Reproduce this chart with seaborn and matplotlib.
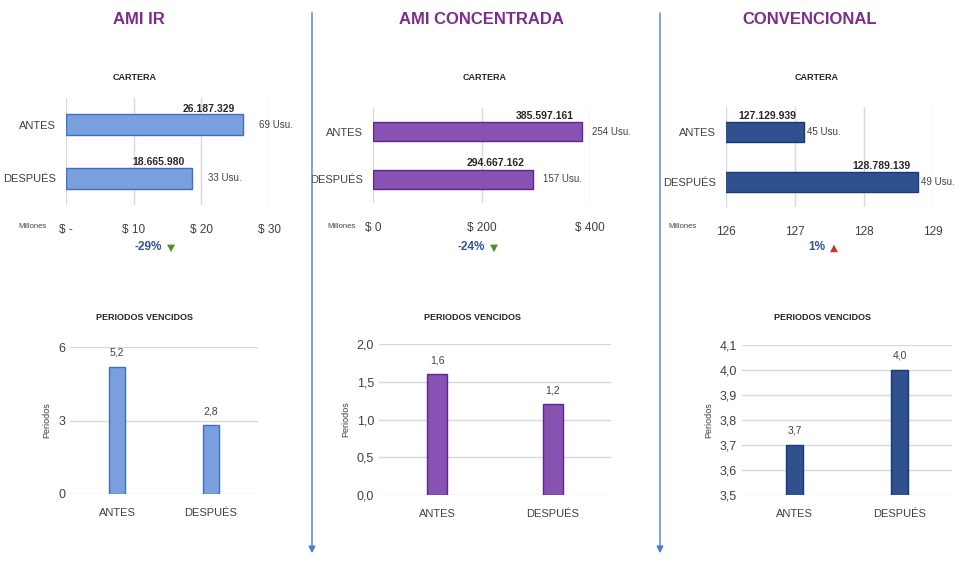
import matplotlib
matplotlib.use('Agg')
import matplotlib.pyplot as plt
from matplotlib.patches import FancyArrowPatch
import seaborn as sns

# datos
grupos = ['AMI IR', 'AMI CONCENTRADA', 'CONVENCIONAL']
categorias = ['ANTES', 'DESPUÉS']
cartera_ami_ir = [26187329, 18665980]
cartera_ami_conc = [385597161, 294667162]
cartera_conv = [127129939, 128789139]
usuarios_ami_ir = [69, 33]
usuarios_ami_conc = [254, 157]
usuarios_conv = [45, 49]
periodos_ami_ir = [5.2, 2.8]
periodos_ami_conc = [1.6, 1.2]
periodos_conv = [3.7, 4.0]
ticks_cartera = [[0, 10, 20, 30], [0, 200, 400], [126, 127, 128, 129]]
etiquetas_cartera = [['$ -', '$ 10', '$ 20', '$ 30'], ['$ 0', '$ 200', '$ 400'],
                     ['126', '127', '128', '129']]
ticks_periodos = [[0, 3, 6], [0, 0.5, 1.0, 1.5, 2.0], [3.5, 3.6, 3.7, 3.8, 3.9, 4.0, 4.1]]

colores = ['#6A9BEE', '#8A42C2', '#1F4E9E']
bordes = ['#3E6FC8', '#5E2590', '#163A78']

sns.set_style('white')
plt.rcParams['font.family'] = ['Liberation Sans', 'DejaVu Sans']
GRIS = '#404040'
W, H = 955, 561

fig = plt.figure(figsize=(9.55, 5.61), dpi=100)


def px(x, y):
    return x / W, 1 - y / H


def caja(x0, x1, y0, y1):
    return [x0 / W, 1 - y1 / H, (x1 - x0) / W, (y1 - y0) / H]


def fmt_num(v):
    return f'{v:,}'.replace(',', '.')


def fmt_dec(v):
    return f'{v:.1f}'.replace('.', ',')


carteras = [cartera_ami_ir, cartera_ami_conc, cartera_conv]
usuarios = [usuarios_ami_ir, usuarios_ami_conc, usuarios_conv]
periodos = [periodos_ami_ir, periodos_ami_conc, periodos_conv]

cajas_top = [(66, 269, 98, 205), (373, 590, 108, 203), (726, 933, 107, 207)]
cajas_bot = [(70, 258, 347, 494), (379, 611, 344, 495), (742, 952, 345, 495)]
centros = [139, 481, 810]
centros_cartera = [135, 485, 817]
centros_periodos = [145, 472, 822]
millones_x = [32, 342, 682]
pct_x = [162, 485, 825]
usu_offset = [16, 10, 3]
ylims_bot = [(0, 6), (0, 2), (3.5, 4.1)]

for i in range(3):
    fig.text(*px(centros[i], 19), grupos[i], ha='center', va='center',
             fontsize=12, fontweight='bold', color='#7B2C8C')

    # cartera (barras horizontales)
    ax = fig.add_axes(caja(*cajas_top[i]))
    valores = [v / 1e6 for v in carteras[i]]
    sns.barplot(x=valores, y=categorias, orient='h', color=colores[i],
                edgecolor=bordes[i], linewidth=1, width=0.4, ax=ax, zorder=3)
    ax.set_xlim(ticks_cartera[i][0], ticks_cartera[i][-1])
    ax.set_xticks(ticks_cartera[i])
    ax.set_xticklabels([t.replace('$', r'\$') for t in etiquetas_cartera[i]])
    ax.grid(axis='x', color='#D9D9D9', lw=1, zorder=0)
    ax.set_axisbelow(True)
    sns.despine(ax=ax, left=True, bottom=True)
    ax.tick_params(axis='both', length=0, labelsize=8.5, colors=GRIS)
    ax.tick_params(axis='y', pad=7, labelsize=8)
    ax.tick_params(axis='x', pad=14)
    ax.set_xlabel('')
    ax.set_ylabel('')
    for j, v in enumerate(valores):
        ax.annotate(fmt_num(carteras[i][j]), (v, j), xytext=(-8, 11),
                    textcoords='offset pixels', ha='right', va='bottom',
                    fontsize=7.5, fontweight='bold', color='#262626')
        ax.annotate(f'{usuarios[i][j]} Usu.', (v, j), xytext=(usu_offset[i], 0),
                    textcoords='offset pixels', ha='left', va='center',
                    fontsize=7, color=GRIS, annotation_clip=False)
    fig.text(*px(centros_cartera[i], 78), 'CARTERA', ha='center', va='center',
             fontsize=6.5, fontweight='bold', color='#262626')
    fig.text(*px(millones_x[i], 226), 'Millones', ha='center', va='center',
             fontsize=5.5, color=GRIS)

    var = carteras[i][1] / carteras[i][0] - 1
    fig.text(*px(pct_x[i], 247), f'{var:.0%}', ha='right', va='center',
             fontsize=8.5, fontweight='bold', color='#2F5597')
    simbolo, col = ('▼', '#4E8F2E') if var < 0 else ('▲', '#C0392B')
    fig.text(*px(pct_x[i] + 5, 248), simbolo, ha='left', va='center',
             fontsize=7.5, color=col, family='DejaVu Sans')

    # periodos vencidos (columnas)
    ax2 = fig.add_axes(caja(*cajas_bot[i]))
    sns.barplot(x=categorias, y=periodos[i], color=colores[i],
                edgecolor=bordes[i], linewidth=1, width=0.17, ax=ax2, zorder=3)
    ax2.set_ylim(*ylims_bot[i])
    ax2.set_yticks(ticks_periodos[i])
    if i == 0:
        ax2.set_yticklabels([str(int(t)) for t in ticks_periodos[i]])
    else:
        ax2.set_yticklabels([fmt_dec(t) for t in ticks_periodos[i]])
    ax2.grid(axis='y', color='#D9D9D9', lw=1, zorder=0)
    ax2.set_axisbelow(True)
    sns.despine(ax=ax2, left=True, bottom=True)
    ax2.tick_params(axis='both', length=0, labelsize=9, colors=GRIS)
    ax2.tick_params(axis='x', pad=10, labelsize=8)
    ax2.set_xlabel('')
    ax2.set_ylabel('Periodos', fontsize=6.5, color=GRIS, labelpad=5)
    for j, v in enumerate(periodos[i]):
        ax2.annotate(fmt_dec(v), (j, v), xytext=(0, 9), textcoords='offset pixels',
                     ha='center', va='bottom', fontsize=7.5, color=GRIS)
    fig.text(*px(centros_periodos[i], 318), 'PERIODOS VENCIDOS', ha='center',
             va='center', fontsize=6.5, fontweight='bold', color='#262626')

# separadores con flecha
for xs in [312, 660]:
    fig.add_artist(FancyArrowPatch(px(xs, 10), px(xs, 556), transform=fig.transFigure,
                                   arrowstyle='-|>', mutation_scale=10,
                                   color='#4A7BD0', lw=1))

fig.savefig('out.png', dpi=100)
